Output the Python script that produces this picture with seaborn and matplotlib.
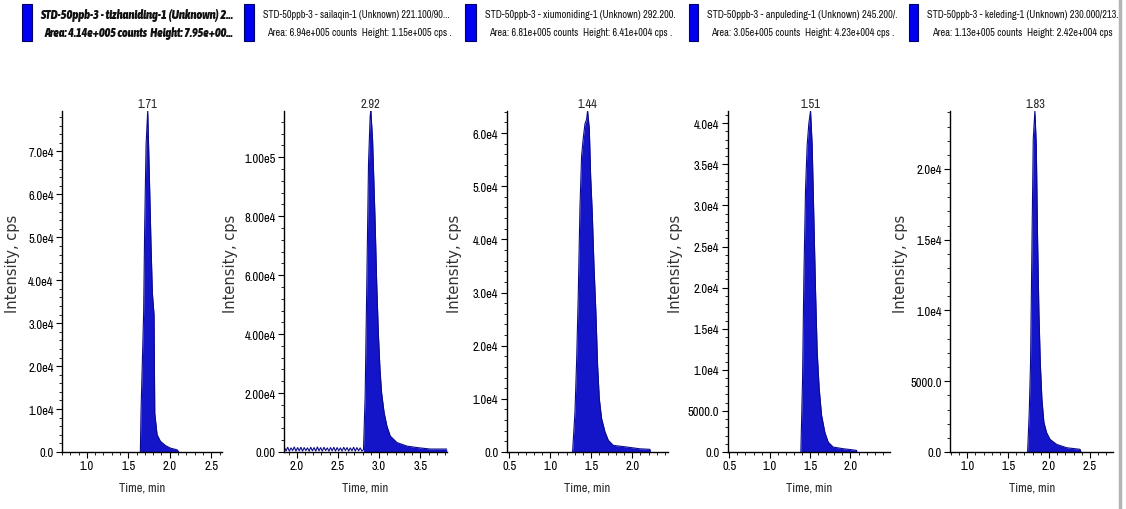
import matplotlib
matplotlib.use("Agg")
import matplotlib.pyplot as plt
import seaborn as sns
import numpy as np
from matplotlib import font_manager
from matplotlib.patches import Rectangle
from matplotlib.lines import Line2D
from matplotlib.ticker import FixedLocator, MultipleLocator, FixedFormatter, AutoMinorLocator

# ---------------- data ----------------
titles_line1 = [
    "STD-50ppb-3 - tizhaniding-1 (Unknown) 2...",
    "STD-50ppb-3 - sailaqin-1 (Unknown) 221.100/90...",
    "STD-50ppb-3 - xiumoniding-1 (Unknown) 292.200.",
    "STD-50ppb-3 - anpuleding-1 (Unknown) 245.200/.",
    "STD-50ppb-3 - keleding-1 (Unknown) 230.000/213.",
]
titles_line2 = [
    "Area: 4.14e+005 counts  Height: 7.95e+00...",
    "Area: 6.94e+005 counts  Height: 1.15e+005 cps .",
    "Area: 6.81e+005 counts  Height: 6.41e+004 cps .",
    "Area: 3.05e+005 counts  Height: 4.23e+004 cps .",
    "Area: 1.13e+005 counts  Height: 2.42e+004 cps",
]
peak_labels = ["1.71", "2.92", "1.44", "1.51", "1.83"]

t1 = [1.645, 1.653, 1.685, 1.697, 1.714, 1.734, 1.754, 1.774, 1.790, 1.810, 1.819,
      1.847, 1.887, 1.948, 2.008, 2.089, 2.109]
i1 = [0, 9200, 32600, 52000, 71500, 79500, 64000, 48000, 37000, 32000, 9000,
      4000, 2500, 1500, 900, 500, 0]

t2 = [1.85, 1.87, 1.89, 1.91, 1.93, 1.95, 1.97, 1.99, 2.01, 2.03, 2.05, 2.07, 2.09,
      2.11, 2.13, 2.15, 2.17, 2.19, 2.21, 2.23, 2.25, 2.27, 2.29, 2.31, 2.33, 2.35,
      2.37, 2.39, 2.41, 2.43, 2.45, 2.47, 2.49, 2.51, 2.53, 2.55, 2.57, 2.59, 2.61,
      2.63, 2.65, 2.67, 2.69, 2.71, 2.73, 2.75, 2.77, 2.79, 2.81,
      2.83, 2.851, 2.871, 2.891, 2.899, 2.92, 2.95, 2.97, 2.99, 3.01, 3.03, 3.06,
      3.094, 3.135, 3.216, 3.338, 3.46, 3.62, 3.82]
i2 = [1500, 400, 1600, 300, 1400, 500, 1700, 300, 1500, 400, 1600, 300, 1500,
      500, 1400, 300, 1600, 400, 1500, 300, 1700, 400, 1500, 300, 1600, 500,
      1400, 300, 1500, 400, 1600, 300, 1500, 400, 1400, 300, 1600, 500, 1500,
      300, 1400, 400, 1600, 300, 1500, 400, 1400, 300, 800,
      19000, 59000, 98000, 114000, 115800, 106000, 79000, 57500, 40500, 28000, 20000, 13400,
      8800, 5400, 3200, 2000, 1500, 1000, 1000]
peak_start2 = 2.81

t3 = [1.272, 1.301, 1.321, 1.341, 1.362, 1.382, 1.402, 1.423, 1.443, 1.455, 1.476,
      1.492, 1.512, 1.533, 1.557, 1.577, 1.598, 1.626, 1.667, 1.708, 1.768, 1.931,
      2.094, 2.216, 2.22]
i3 = [0, 7500, 17000, 29400, 46000, 55700, 59000, 61700, 62600, 64200, 60800,
      52000, 45000, 35000, 26000, 16300, 10000, 6300, 3800, 2200, 1250, 940,
      600, 500, 0]

t4 = [1.386, 1.407, 1.423, 1.444, 1.464, 1.485, 1.506, 1.526, 1.547, 1.568, 1.588,
      1.613, 1.642, 1.683, 1.724, 1.786, 1.909, 2.074, 2.08]
i4 = [0, 8900, 21000, 32000, 37300, 40000, 41500, 37300, 28400, 19500, 12200,
      7700, 4500, 2400, 1200, 600, 400, 200, 0]

t5 = [1.738, 1.758, 1.774, 1.791, 1.807, 1.827, 1.844, 1.860, 1.876, 1.893, 1.913,
      1.937, 1.970, 2.011, 2.092, 2.215, 2.378, 2.39]
i5 = [0, 2800, 6300, 14600, 22100, 24100, 21700, 15000, 9900, 6300, 3700,
      2100, 1370, 900, 540, 300, 190, 0]

times = [t1, t2, t3, t4, t5]
intens = [i1, i2, i3, i4, i5]
fill_from = [None, peak_start2, None, None, None]

xlims = [(0.70, 2.63), (1.845, 3.82), (0.468, 2.44), (0.48, 2.49), (0.79, 2.785)]
ylims = [(0, 79500), (0, 115800), (0, 64200), (0, 41530), (0, 24120)]
xticks = [[1.0, 1.5, 2.0, 2.5], [2.0, 2.5, 3.0, 3.5], [0.5, 1.0, 1.5, 2.0],
          [0.5, 1.0, 1.5, 2.0], [1.0, 1.5, 2.0, 2.5]]
xticklabels = [["1.0", "1.5", "2.0", "2.5"], ["2.0", "2.5", "3.0", "3.5"],
               ["0.5", "1.0", "1.5", "2.0"], ["0.5", "1.0", "1.5", "2.0"],
               ["1.0", "1.5", "2.0", "2.5"]]
yticks = [[0, 1e4, 2e4, 3e4, 4e4, 5e4, 6e4, 7e4],
          [0, 2e4, 4e4, 6e4, 8e4, 1e5],
          [0, 1e4, 2e4, 3e4, 4e4, 5e4, 6e4],
          [0, 5e3, 1e4, 1.5e4, 2e4, 2.5e4, 3e4, 3.5e4, 4e4],
          [0, 5e3, 1e4, 1.5e4, 2e4]]
yticklabels = [["0.0", "1.0e4", "2.0e4", "3.0e4", "4.0e4", "5.0e4", "6.0e4", "7.0e4"],
               ["0.00", "2.00e4", "4.00e4", "6.00e4", "8.00e4", "1.00e5"],
               ["0.0", "1.0e4", "2.0e4", "3.0e4", "4.0e4", "5.0e4", "6.0e4"],
               ["0.0", "5000.0", "1.0e4", "1.5e4", "2.0e4", "2.5e4", "3.0e4", "3.5e4", "4.0e4"],
               ["0.0", "5000.0", "1.0e4", "1.5e4", "2.0e4"]]

# ---------------- layout (pixels) ----------------
W, H = 1126, 510
axes_px = [(62, 222), (284, 446.7), (506.7, 668.3), (727.7, 890), (950, 1113.3)]
ax_top, ax_bot = 111.7, 453
ylab_x = [20, 238, 462, 683, 908]
rects_px = [(22, 32), (244, 254), (465, 476), (689, 698), (909, 918)]
title_x1 = [40, 263, 485, 707, 927]
title_w1 = [192, 187, 190, 190, 191]
title_x2 = [44, 267, 489, 711, 932]
title_w2 = [188, 185, 184, 184, 181]

sns.set_style("ticks")

# look for a condensed face (the reference uses a narrow sans)
entries = font_manager.fontManager.ttflist

def is_cond(f):
    if "Narrow" in f.name or "Condensed" in f.name:
        return True
    st = f.stretch
    if isinstance(st, (int, float)):
        return st <= 400
    return "condensed" in str(st)

cond = [f for f in entries if is_cond(f)]
cond_family, cond_stretch = "Liberation Sans", "normal"
if cond:
    named = sorted({f.name for f in cond if "Narrow" in f.name or "Condensed" in f.name})
    if named:
        cond_family = named[0]
    else:
        cond_family, cond_stretch = cond[0].name, "condensed"

def weight_num(w):
    if isinstance(w, (int, float)):
        return w
    return {"bold": 700, "heavy": 800, "black": 900, "semibold": 600,
            "demibold": 600, "extra bold": 800}.get(str(w).lower(), 400)

bold_family, bold_stretch = cond_family, cond_stretch
bold_cands = [f for f in cond if weight_num(f.weight) >= 600]
same = [f for f in bold_cands if f.name == cond_family]
if not same and bold_cands:
    b = sorted(bold_cands, key=lambda f: (f.style == "normal", f.name))[0]
    bold_family = b.name
    bold_stretch = "normal" if ("Narrow" in b.name or "Condensed" in b.name) else "condensed"

plt.rcParams['font.family'] = [cond_family, 'DejaVu Sans']
plt.rcParams['font.stretch'] = cond_stretch

FILL = "#1414C8"
EDGE = "#0A0A8C"

fig = plt.figure(figsize=(W / 100, H / 100), dpi=100)
fig.patch.set_facecolor("white")

for k in range(5):
    l, r = axes_px[k]
    ax = fig.add_axes([l / W, (H - ax_bot) / H, (r - l) / W, (ax_bot - ax_top) / H])
    ax.set_facecolor("white")
    t = np.array(times[k]); v = np.array(intens[k])
    if fill_from[k] is None:
        ax.fill_between(t, v, 0, color=FILL, lw=0)
    else:
        ax.fill_between(t, v, 0, where=t >= fill_from[k], color=FILL, lw=0)
    sns.lineplot(x=t, y=v, ax=ax, color=EDGE, lw=0.8, sort=False)
    ax.set_xlim(*xlims[k]); ax.set_ylim(*ylims[k])
    sns.despine(ax=ax)
    for s in ("left", "bottom"):
        ax.spines[s].set_color("black"); ax.spines[s].set_linewidth(1.0)
    ax.xaxis.set_major_locator(FixedLocator(xticks[k]))
    ax.xaxis.set_major_formatter(FixedFormatter(xticklabels[k]))
    ax.xaxis.set_minor_locator(MultipleLocator(0.1))
    ax.yaxis.set_major_locator(FixedLocator(yticks[k]))
    ax.yaxis.set_major_formatter(FixedFormatter(yticklabels[k]))
    ax.yaxis.set_minor_locator(AutoMinorLocator(5))
    ax.tick_params(which="major", direction="out", length=4, width=0.8,
                   labelsize=9, colors="black", pad=2)
    ax.tick_params(which="minor", direction="out", length=2, width=0.6, colors="black")
    ax.set_xlabel("Time, min", fontsize=9)
    ax.xaxis.set_label_coords(0.5, -0.085)
    ax.set_ylabel("Intensity, cps", fontsize=10.5, color="#333333",
                  family="DejaVu Sans", stretch="normal")
    ax.yaxis.set_label_coords((ylab_x[k] - l) / (r - l), 0.555)
    j = int(np.argmax(v))
    ax.annotate(peak_labels[k], xy=(t[j], ylims[k][1]), xytext=(0, 1.5),
                textcoords="offset points", ha="center", va="bottom", fontsize=9,
                annotation_clip=False)

# header boxes and texts
for k in range(5):
    x0, x1 = rects_px[k]
    fig.add_artist(Rectangle((x0 / W, (H - 42) / H), (x1 - x0) / W, 37 / H,
                             transform=fig.transFigure, facecolor="#0000F0",
                             edgecolor="#00006A", lw=0.8))

renderer = fig.canvas.get_renderer()
for k in range(5):
    if k == 0:
        style = dict(fontweight="bold", fontstyle="italic",
                     family=[bold_family, "DejaVu Sans"], stretch=bold_stretch)
    else:
        style = {}
    for txt, xp, wp, yp in ((titles_line1[k], title_x1[k], title_w1[k], 15),
                            (titles_line2[k], title_x2[k], title_w2[k], 33)):
        tt = fig.text(xp / W, (H - yp) / H, txt, ha="left", va="center",
                      fontsize=10, color="#111111", **style)
        w = tt.get_window_extent(renderer=renderer).width
        tt.set_fontsize(10 * wp / w)

fig.add_artist(Line2D([1120 / W, 1120 / W], [0, 1], transform=fig.transFigure,
                      color="#B4B4B4", lw=2.5))

fig.savefig("out.png", dpi=100, facecolor="white")
